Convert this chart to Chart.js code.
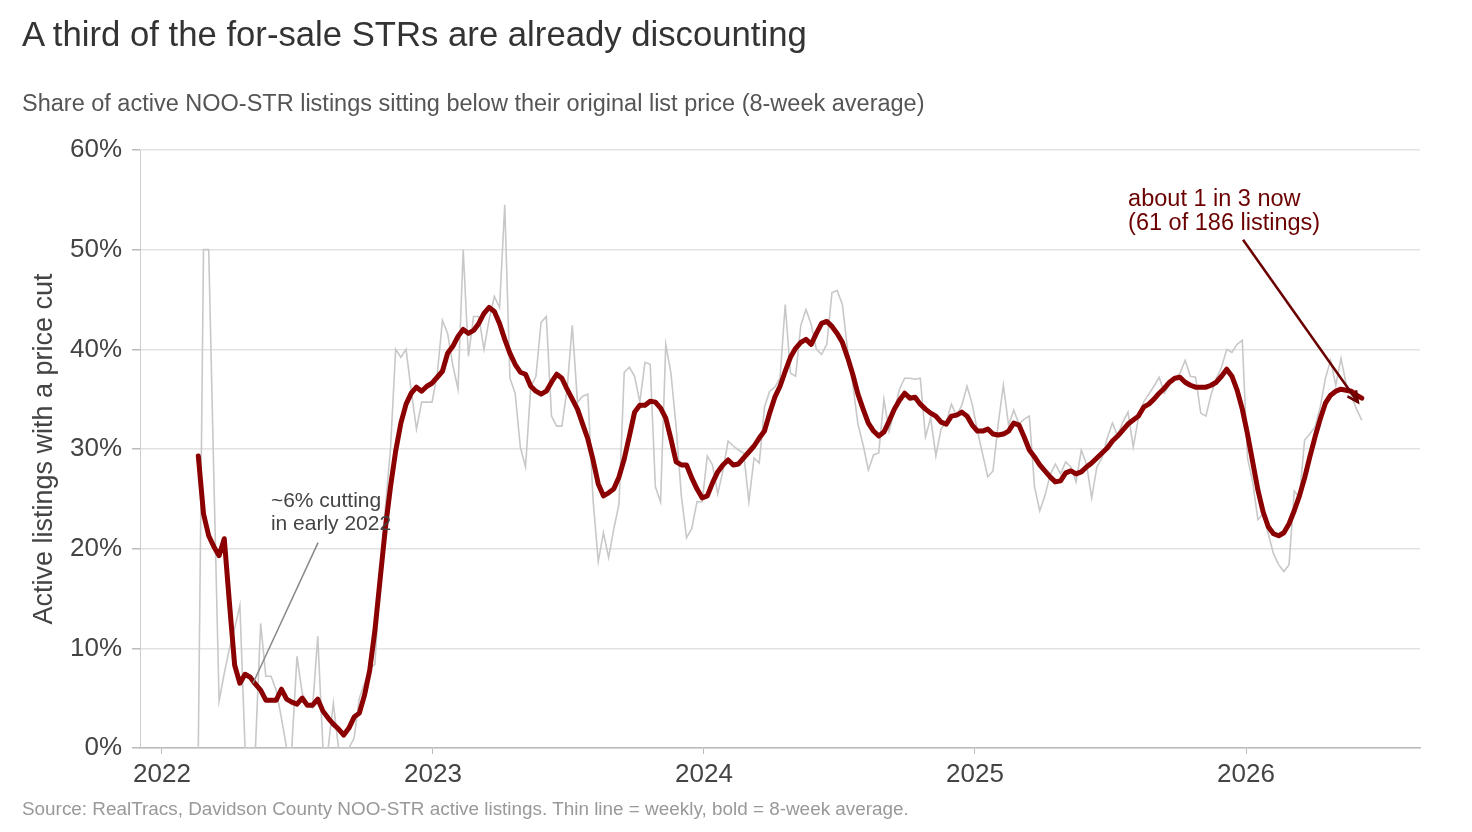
<!DOCTYPE html>
<html>
<head>
<meta charset="utf-8">
<script src="https://cdn.jsdelivr.net/npm/chart.js@4.4.1/dist/chart.umd.min.js"></script>
<style>
  body { margin: 0; background: #fff; }
  #wrap { position: relative; width: 1472px; height: 832px; font-family: "Liberation Sans", Arial, Helvetica, sans-serif; }
  #wrap canvas { position: absolute; left: 0; top: 0; }
  .txt { position: absolute; left: 22px; white-space: nowrap; line-height: 1; }
  #title { top: 17px; font-size: 34.7px; color: #333; }
  #subtitle { top: 92px; font-size: 23.5px; color: #555; }
  #source { top: 800px; font-size: 18.9px; color: #999; }
</style>
</head>
<body>
<div id="wrap">
  <canvas id="chart" width="1472" height="832"></canvas>
  <div class="txt" id="title">A third of the for-sale STRs are already discounting</div>
  <div class="txt" id="subtitle">Share of active NOO-STR listings sitting below their original list price (8-week average)</div>
  <div class="txt" id="source">Source: RealTracs, Davidson County NOO-STR active listings. Thin line = weekly, bold = 8-week average.</div>
</div>
<script>
// first week in the series: 2022-02-18 (day 49 of 2022), one point per week
var startYear = 2022;
var startDay = 49;

// share of active listings below original list price, weekly (%)
var weeklyShare = [
  0, 50, 50, 27, 4.7, 7.5, 10, 12, 14.3, 0,
  0, 0, 12.5, 7.2, 7.2, 5.8, 3, 0, 0, 9.2,
  5.5, 4.5, 4, 11.2, 0, 0, 4.5, 0, 0, 0,
  1, 5, 6.5, 8, 8.4, 17, 24, 30, 40, 39.2,
  40, 35.8, 32, 34.7, 34.7, 34.7, 37.5, 42.9, 41.6, 38.4,
  36, 50, 39.3, 43.3, 43.3, 40, 43, 45.3, 44.2, 54.5,
  37.1, 35.6, 30.2, 28.2, 36.2, 37.3, 42.7, 43.3, 33.3, 32.3,
  32.3, 36, 42.4, 34.7, 35.3, 35.5, 24.9, 18.7, 21.6, 19.1,
  22, 24.5, 37.7, 38.2, 37.3, 34.7, 38.7, 38.5, 26.2, 24.7,
  40.5, 37.6, 32.2, 25.3, 21.1, 22, 24.7, 24.7, 29.3, 28.4,
  25.5, 27.8, 30.8, 30.3, 29.9, 29.6, 24.7, 29.1, 28.6, 34.2,
  35.8, 36.2, 37.1, 44.5, 37.6, 37.3, 42.4, 44, 42.5, 40,
  39.5, 40.5, 45.7, 45.9, 44.5, 40, 36.5, 32.5, 30.4, 27.9,
  29.4, 29.6, 35, 31.8, 33.8, 36, 37.1, 37.1, 37, 37.1,
  31.2, 33.1, 29.3, 32, 32.7, 34.5, 33.3, 34.4, 36.3, 34.5,
  31.8, 29.5, 27.2, 27.8, 32.5, 36.4, 32.4, 33.9, 32.5, 33,
  33.3, 26.2, 23.8, 25.3, 27.4, 28.5, 27.5, 28.7, 28.2, 26.7,
  29.9, 28.5, 25.1, 28.2, 29.1, 31.1, 32.6, 31.3, 32.7, 33.7,
  30.2, 33.1, 34.7, 35.5, 36.3, 37.2, 35.6, 36.5, 37.1, 37.6,
  38.9, 37.3, 37.2, 33.6, 33.3, 35.5, 37.1, 38.2, 40, 39.7,
  40.5, 40.9, 29.1, 26.7, 22.9, 23.5, 21.5, 19.5, 18.4, 17.7,
  18.4, 25.8, 25.1, 30.9, 31.5, 32.2, 34.2, 37.1, 38.9, 36.4,
  39.1, 36.5, 35.3, 34, 32.9
];

// 8-week average (%)
var avgShare = [
  29.3, 23.5, 21.3, 20.2, 19.3, 21, 14.5, 8.3, 6.5, 7.4,
  7.1, 6.4, 5.8, 4.8, 4.8, 4.8, 5.9, 4.9, 4.6, 4.4,
  5, 4.3, 4.3, 4.9, 3.7, 3, 2.4, 1.9, 1.3, 2,
  3.1, 3.5, 5.3, 7.8, 11.8, 16.9, 22, 26.2, 29.8, 32.6,
  34.5, 35.6, 36.2, 35.8, 36.3, 36.6, 37.2, 37.8, 39.6, 40.3,
  41.3, 42, 41.6, 41.9, 42.6, 43.6, 44.2, 43.8, 42.6, 41,
  39.6, 38.5, 37.7, 37.5, 36.3, 35.8, 35.5, 35.8, 36.7, 37.5,
  37.1, 36, 35, 34, 32.5, 31, 28.9, 26.5, 25.3, 25.6,
  26, 27.2, 29, 31.3, 33.7, 34.4, 34.4, 34.8, 34.7, 34.1,
  33.1, 31, 28.7, 28.4, 28.4, 27.1, 26, 25.1, 25.3, 26.6,
  27.7, 28.4, 28.9, 28.4, 28.5, 29.1, 29.7, 30.3, 31.1, 31.8,
  33.6, 35.2, 36.3, 37.8, 39.2, 40.1, 40.7, 41, 40.5, 41.6,
  42.6, 42.8, 42.3, 41.6, 40.7, 39.2, 37.5, 35.5, 34, 32.6,
  31.8, 31.3, 31.7, 32.8, 34, 34.9, 35.6, 35.1, 35.2, 34.5,
  34, 33.6, 33.3, 32.7, 32.5, 33.3, 33.4, 33.7, 33.3, 32.4,
  31.8, 31.8, 32, 31.5, 31.4, 31.5, 31.8, 32.6, 32.4, 31.2,
  29.9, 29.2, 28.4, 27.8, 27.2, 26.7, 26.8, 27.6, 27.8, 27.5,
  27.7, 28.2, 28.6, 29.1, 29.6, 30.1, 30.8, 31.3, 31.9, 32.5,
  32.9, 33.3, 34.2, 34.5, 35, 35.6, 36.1, 36.7, 37.1, 37.2,
  36.7, 36.4, 36.2, 36.2, 36.2, 36.4, 36.7, 37.3, 38, 37.3,
  35.9, 34, 31.5, 28.7, 25.9, 23.7, 22.2, 21.5, 21.3, 21.6,
  22.5, 23.8, 25.3, 27.1, 29.2, 31.2, 33, 34.6, 35.4, 35.8,
  36, 35.9, 35.8, 35.4, 35.1
];

var yearTicks = [2022, 2023, 2024, 2025, 2026];
var pctTicks = [0, 10, 20, 30, 40, 50, 60];

var weekYears = weeklyShare.map(function (v, i) {
    return startYear + (startDay + 7 * i) / 365.25;
});

var weeklyPoints = weeklyShare.map(function (v, i) { return { x: weekYears[i], y: v }; });
var avgPoints = avgShare.map(function (v, i) { return { x: weekYears[i], y: v }; });

// annotation anchors, in chart units (year, %)
var notes = [
    { lines: ['~6% cutting', 'in early 2022'], x: 2022.402, y: 24.2, gap: 2.35,
      color: '#444', font: '21px "Liberation Sans", Arial, sans-serif',
      from: [2022.576, 20.6], to: [2022.336, 6.5], lineColor: '#888', arrow: false },
    { lines: ['about 1 in 3 now', '(61 of 186 listings)'], x: 2025.565, y: 54.4, gap: 2.4,
      color: '#6b0000', font: '23.5px "Liberation Sans", Arial, sans-serif',
      from: [2025.989, 51.0], to: [2026.413, 34.7], lineColor: '#6b0000', arrow: true }
];

var notesPlugin = {
    id: 'notes',
    afterDatasetsDraw: function (chart) {
        var ctx = chart.ctx, xs = chart.scales.x, ys = chart.scales.y;
        ctx.save();
        notes.forEach(function (n) {
            ctx.font = n.font;
            ctx.fillStyle = n.color;
            ctx.textBaseline = 'alphabetic';
            ctx.textAlign = 'left';
            n.lines.forEach(function (t, k) {
                ctx.fillText(t, xs.getPixelForValue(n.x), ys.getPixelForValue(n.y - k * n.gap));
            });
            var x1 = xs.getPixelForValue(n.from[0]), y1 = ys.getPixelForValue(n.from[1]);
            var x2 = xs.getPixelForValue(n.to[0]), y2 = ys.getPixelForValue(n.to[1]);
            ctx.strokeStyle = n.lineColor;
            ctx.lineWidth = n.arrow ? 2.5 : 1.5;
            ctx.beginPath();
            ctx.moveTo(x1, y1);
            ctx.lineTo(x2, y2);
            ctx.stroke();
            if (n.arrow) {
                var a = Math.atan2(y2 - y1, x2 - x1), L = 12;
                ctx.beginPath();
                ctx.moveTo(x2 - L * Math.cos(a - 0.45), y2 - L * Math.sin(a - 0.45));
                ctx.lineTo(x2, y2);
                ctx.lineTo(x2 - L * Math.cos(a + 0.45), y2 - L * Math.sin(a + 0.45));
                ctx.stroke();
            }
        });
        ctx.restore();
    }
};

var tickFont = { family: '"Liberation Sans", Arial, sans-serif', size: 26 };

new Chart(document.getElementById('chart'), {
    type: 'line',
    data: {
        datasets: [{
            label: '8-week average',
            data: avgPoints,
            borderColor: '#8b0000',
            borderWidth: 5,
            pointRadius: 0,
            borderJoinStyle: 'round',
            borderCapStyle: 'round',
            order: 0
        }, {
            label: 'Weekly',
            data: weeklyPoints,
            borderColor: '#c8c8c8',
            borderWidth: 1.6,
            pointRadius: 0,
            order: 1
        }]
    },
    options: {
        responsive: false,
        animation: false,
        events: [],
        layout: { padding: { left: 0, right: 52, top: 150, bottom: 0 } },
        plugins: { legend: { display: false }, tooltip: { enabled: false } },
        scales: {
            x: {
                type: 'linear',
                min: 2021.919,
                max: 2026.642,
                afterFit: function (s) { s.height = 84; },
                afterBuildTicks: function (s) {
                    s.ticks = yearTicks.map(function (v) { return { value: v }; });
                },
                border: { color: '#bbb', width: 1.5 },
                grid: { drawOnChartArea: false, tickLength: 6, tickColor: '#bbb' },
                ticks: {
                    color: '#444', font: tickFont, padding: 5, maxRotation: 0,
                    callback: function (v) { return String(v); }
                }
            },
            y: {
                min: 0,
                max: 60,
                afterFit: function (s) { s.width = 140; },
                afterBuildTicks: function (s) {
                    s.ticks = pctTicks.map(function (v) { return { value: v }; });
                },
                border: { color: '#ccc', width: 1 },
                grid: { color: '#e2e2e2', lineWidth: 1.5, tickLength: 8, tickColor: '#bbb' },
                ticks: {
                    color: '#444', font: tickFont, padding: 10,
                    callback: function (v) { return v + '%'; }
                },
                title: {
                    display: true,
                    text: 'Active listings with a price cut',
                    color: '#444',
                    font: { family: '"Liberation Sans", Arial, sans-serif', size: 27 },
                    padding: { top: 28, bottom: 0 }
                }
            }
        }
    },
    plugins: [notesPlugin]
});
</script>
</body>
</html>
